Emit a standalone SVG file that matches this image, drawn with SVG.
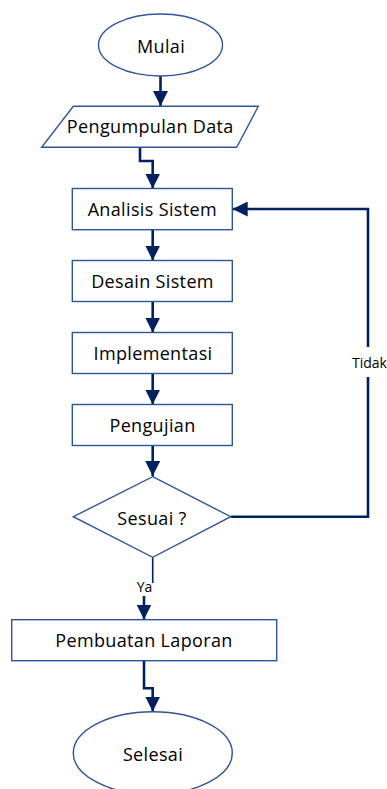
<svg xmlns="http://www.w3.org/2000/svg" width="387" height="789" viewBox="0 0 387 789">
<style>
.shape{fill:#ffffff;stroke:#2F5597;stroke-width:1.4}
.conn{fill:none;stroke:#002060;stroke-width:2.6}
.thin{fill:none;stroke:#002060;stroke-width:1.6}
.t{font-family:"Open Sans","Liberation Sans",sans-serif;font-size:18px;letter-spacing:0.35px;fill:#000000;text-anchor:middle}
.lbl{font-family:"Open Sans","Liberation Sans",sans-serif;font-size:14px;fill:#000000;text-anchor:middle}
</style>
<defs>
<marker id="ah" markerUnits="userSpaceOnUse" markerWidth="15" markerHeight="15" viewBox="0 0 15 15" refX="15" refY="7.5" orient="auto">
<path d="M0,0 L15,7.5 L0,15 z" fill="#002060"/>
</marker>
</defs>
<rect x="0" y="0" width="387" height="789" fill="#ffffff"/>
<g id="connectors">
<path class="conn" d="M160.5,76 V106" marker-end="url(#ah)"/>
<path class="conn" d="M140,147 V161 H152.7 V188.5" marker-end="url(#ah)"/>
<path class="conn" d="M152.7,230 V260.5" marker-end="url(#ah)"/>
<path class="conn" d="M152.7,301.5 V332.5" marker-end="url(#ah)"/>
<path class="conn" d="M152.7,373.5 V404.5" marker-end="url(#ah)"/>
<path class="conn" d="M152.7,445.5 V476" marker-end="url(#ah)"/>
<path class="conn" d="M231,516.7 H368 V209 H232.7" marker-end="url(#ah)"/>
<rect x="350" y="347" width="37" height="30" fill="#ffffff"/>
<text class="lbl" x="369.5" y="367.5">Tidak</text>
<path class="thin" d="M152.7,557.5 V583"/>
<path class="conn" d="M144,596 V619.5" marker-end="url(#ah)"/>
<text class="lbl" x="144.5" y="591.5">Ya</text>
<path class="conn" d="M144,661 V688.3 H152.7 V711.5" marker-end="url(#ah)"/>
</g>
<g id="mulai">
<ellipse class="shape" cx="160.5" cy="45" rx="62" ry="31"/>
<text class="t" x="161" y="52.5">Mulai</text>
</g>
<g id="pengumpulan-data">
<polygon class="shape" points="73.3,106.3 258.3,106.3 236.7,147.3 41.7,147.3"/>
<text class="t" x="150.3" y="133.3">Pengumpulan Data</text>
</g>
<g id="analisis-sistem">
<rect class="shape" x="72.3" y="188.5" width="160" height="41.2"/>
<text class="t" x="152.3" y="215.8">Analisis Sistem</text>
</g>
<g id="desain-sistem">
<rect class="shape" x="72.3" y="260.5" width="160" height="41"/>
<text class="t" x="152.5" y="288">Desain Sistem</text>
</g>
<g id="implementasi">
<rect class="shape" x="72.3" y="332.5" width="160" height="41"/>
<text class="t" x="153" y="359.8">Implementasi</text>
</g>
<g id="pengujian">
<rect class="shape" x="72.3" y="404.5" width="160" height="41"/>
<text class="t" x="152.5" y="431.5">Pengujian</text>
</g>
<g id="sesuai">
<polygon class="shape" points="152.7,476.7 230.7,516.7 152.7,557.3 73.3,516.7"/>
<text class="t" x="152" y="525">Sesuai ?</text>
</g>
<g id="pembuatan-laporan">
<rect class="shape" x="11.7" y="619.7" width="265" height="41"/>
<text class="t" x="144" y="646.5">Pembuatan Laporan</text>
</g>
<g id="selesai">
<ellipse class="shape" cx="152.8" cy="753" rx="79.5" ry="41.3"/>
<text class="t" x="153" y="761">Selesai</text>
</g>
</svg>
